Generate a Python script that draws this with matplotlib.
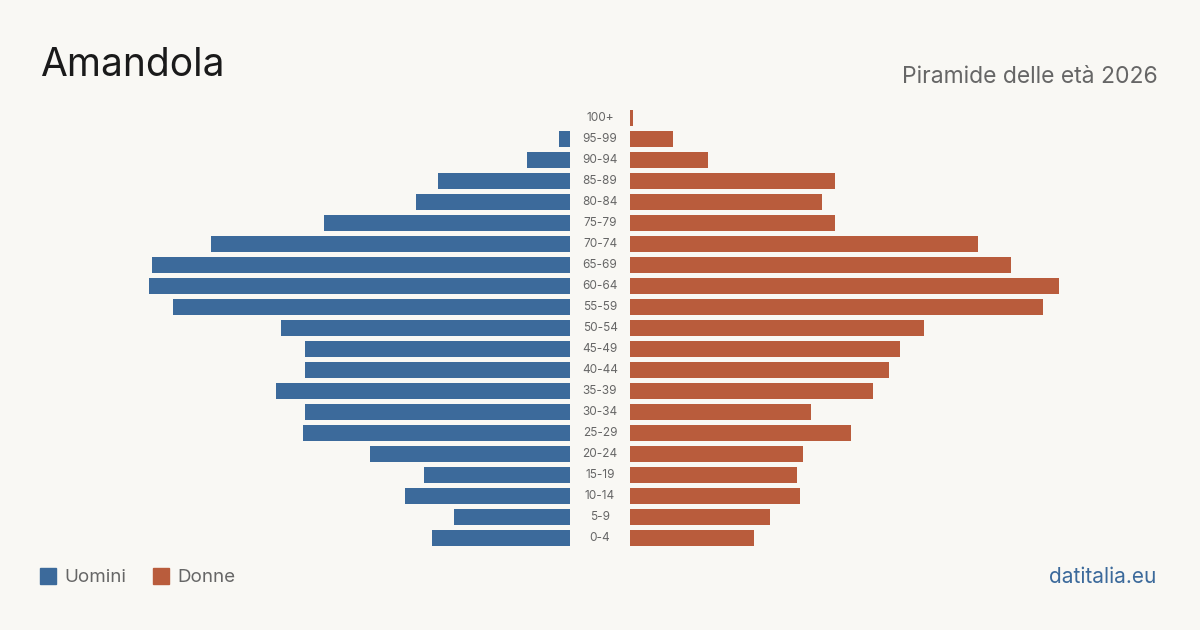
import matplotlib
matplotlib.use('Agg')
from matplotlib import pyplot as plt
from matplotlib.patches import Rectangle

plt.rcParams['font.family'] = ['Inter', 'DejaVu Sans']

age_groups = ['100+', '95-99', '90-94', '85-89', '80-84', '75-79', '70-74', '65-69',
              '60-64', '55-59', '50-54', '45-49', '40-44', '35-39', '30-34', '25-29',
              '20-24', '15-19', '10-14', '5-9', '0-4']
men = [0, 4, 16, 49, 57, 91, 133, 155, 156, 147, 107, 98, 98, 109, 98, 99, 74, 54, 61, 43, 51]
women = [1, 16, 29, 76, 71, 76, 129, 141, 159, 153, 109, 100, 96, 90, 67, 82, 64, 62, 63, 52, 46]

bg = '#f9f8f4'
c_men = '#3c6a9b'
c_women = '#b95c3c'
W, H = 1200, 630

fig = plt.figure(figsize=(12, 6.3), dpi=100, facecolor=bg)

bottom = 1 - 548.5 / H
height = 441 / H
ax_l = fig.add_axes([130 / W, bottom, 440 / W, height])
ax_r = fig.add_axes([630 / W, bottom, 440 / W, height])

ypos = list(range(len(age_groups)))
xmax = 163

ax_l.barh(ypos, men, height=0.8, color=c_men)
ax_l.set_xlim(xmax, 0)
ax_r.barh(ypos, women, height=0.8, color=c_women)
ax_r.set_xlim(0, xmax)

for ax in (ax_l, ax_r):
    ax.set_ylim(len(age_groups) - 0.5, -0.5)
    ax.axis('off')

# age labels in the gap between the two halves
for i, lab in enumerate(age_groups):
    y = bottom + height * (1 - (i + 0.5) / len(age_groups))
    fig.text(600 / W, y, lab, ha='center', va='center', fontsize=8.5, color='#666666')

fig.text(40 / W, 1 - 66 / H, 'Amandola', fontsize=28, color='#1a1a1a', va='center', ha='left')
fig.text(1158 / W, 1 - 77 / H, 'Piramide delle età 2026', fontsize=16.5, color='#666666',
         va='center', ha='right')

# legend
fig.patches.append(Rectangle((40 / W, 1 - 584 / H), 16 / W, 16 / H, transform=fig.transFigure,
                             color=c_men))
fig.text(64 / W, 1 - 577 / H, 'Uomini', fontsize=13.5, color='#666666', va='center')
fig.patches.append(Rectangle((153 / W, 1 - 584 / H), 16 / W, 16 / H, transform=fig.transFigure,
                             color=c_women))
fig.text(177 / W, 1 - 577 / H, 'Donne', fontsize=13.5, color='#666666', va='center')

fig.text(1156 / W, 1 - 577 / H, 'datitalia.eu', fontsize=15, color='#3c6a9b', va='center',
         ha='right')

fig.savefig('out.png', dpi=100, facecolor=bg)
